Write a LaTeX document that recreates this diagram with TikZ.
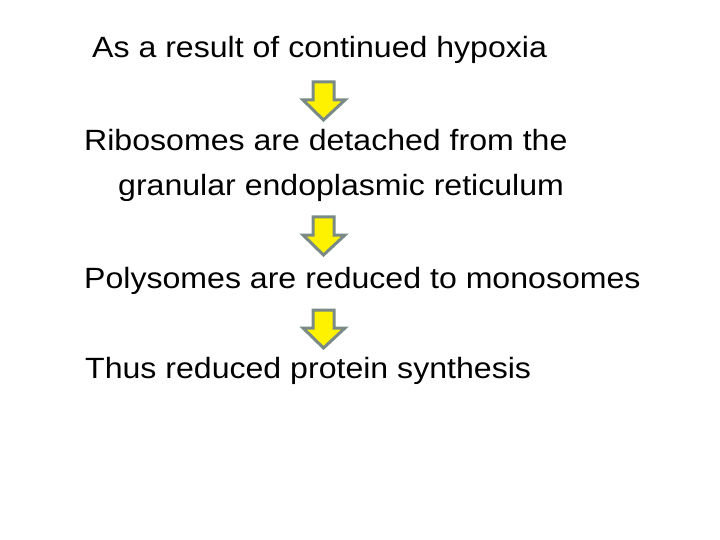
\documentclass[tikz,border=0pt]{standalone}
\usepackage{fontspec}
\setmainfont{Liberation Sans}[FakeStretch=1.095]
\usetikzlibrary{positioning}
\definecolor{arrowgray}{RGB}{122,138,134}

\begin{document}
\begin{tikzpicture}[
    x=1pt, y=-1pt,
    step text/.style={anchor=base west, inner sep=0pt, font=\fontsize{29.3}{35}\selectfont},
    blockarrow/.style={draw=arrowgray, line width=3pt, fill=yellow, line join=miter}
]
\useasboundingbox (0,0) rectangle (720,540);

% Text lines
\node[step text] (hypoxia) at (92,58) {As a result of continued hypoxia};
\node[step text] (ribo) at (84,151) {Ribosomes are detached from the};
\node[step text] (granular) at (118,196) {granular endoplasmic reticulum};
\node[step text] (poly) at (84,288) {Polysomes are reduced to monosomes};
\node[step text] (thus) at (85,378) {Thus reduced protein synthesis};

% Block arrows between the steps
\foreach \top/\name in {82/arrA, 217/arrB, 310/arrC}{
  \draw[blockarrow] (313,\top) -- (334,\top) -- (334,\top+18) -- (345,\top+18)
    -- (323.5,\top+38) -- (303,\top+18) -- (313,\top+18) -- cycle;
  \coordinate (\name) at (323.5,\top);
}

\end{tikzpicture}
\end{document}
